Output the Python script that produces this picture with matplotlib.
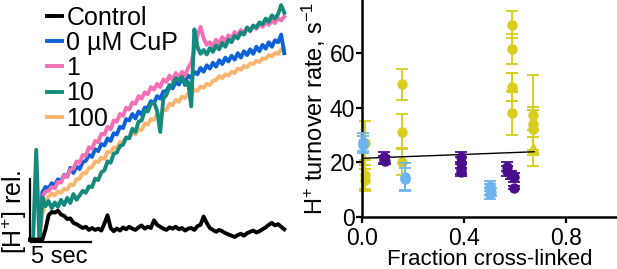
import numpy as np
import matplotlib
matplotlib.use("Agg")
import matplotlib.pyplot as plt

plt.rcParams['font.family'] = ['Liberation Sans', 'DejaVu Sans']
plt.rcParams['mathtext.fontset'] = 'custom'
plt.rcParams['mathtext.rm'] = 'Liberation Sans'
plt.rcParams['mathtext.it'] = 'Liberation Sans:italic'

# ---------------------------- traces (left panel) ----------------------------
# sampled every 0.25 s, signal in units of the vertical scale bar
dt = 0.25
control = [0.04, 0.04, 0.04, 0.04, 0.04, 0.20, 0.42, 0.47, 0.46, 0.49, 0.43,
           0.41, 0.36, 0.37, 0.30, 0.28, 0.25, 0.22, 0.24, 0.19, 0.22, 0.19,
           0.21, 0.18, 0.29, 0.42, 0.22, 0.17, 0.21, 0.18, 0.23, 0.20, 0.24,
           0.21, 0.19, 0.23, 0.26, 0.21, 0.24, 0.22, 0.34, 0.27, 0.24, 0.21,
           0.19, 0.23, 0.21, 0.24, 0.20, 0.22, 0.18, 0.21, 0.22, 0.19, 0.25,
           0.27, 0.40, 0.30, 0.22, 0.19, 0.16, 0.19, 0.17, 0.14, 0.12, 0.10,
           0.08, 0.11, 0.13, 0.10, 0.14, 0.16, 0.18, 0.15, 0.17, 0.20, 0.23,
           0.27, 0.30, 0.26, 0.28, 0.24, 0.20]
cup0 = [0.03, 0.03, 0.03, 0.03, 0.78, 0.86, 0.84, 0.92, 0.88, 0.98,
        0.95, 1.05, 1.02, 1.16, 1.08, 1.18, 1.14, 1.25, 1.27, 1.36,
        1.33, 1.45, 1.42, 1.53, 1.51, 1.62, 1.58, 1.70, 1.68, 1.80,
        1.78, 1.92, 1.90, 2.00, 1.93, 2.04, 1.99, 2.10, 2.10, 2.20,
        2.17, 2.28, 2.24, 2.35, 2.36, 2.45, 2.40, 2.50, 2.46, 2.56,
        2.50, 2.60, 2.56, 2.66, 2.62, 2.72, 2.66, 2.76, 2.71, 2.80,
        2.74, 2.84, 2.78, 2.88, 2.82, 2.91, 2.85, 2.95, 2.88, 2.98,
        2.92, 3.01, 2.94, 3.05, 2.98, 3.08, 3.02, 3.12, 3.05, 3.15,
        3.12, 3.24, 2.95]
cup1 = [0.03, 0.03, 0.03, 0.03, 0.70, 0.79, 0.80, 0.86, 0.84, 0.94,
        0.93, 1.04, 1.02, 1.13, 1.15, 1.26, 1.24, 1.36, 1.35, 1.48,
        1.46, 1.58, 1.56, 1.69, 1.68, 1.80, 1.76, 1.90, 1.88, 2.00,
        1.97, 2.10, 2.07, 2.18, 2.16, 2.28, 2.24, 2.34, 2.31, 2.42,
        2.38, 2.47, 2.42, 2.54, 2.50, 2.60, 2.53, 2.64, 2.57, 2.66,
        2.60, 2.72, 2.80, 3.00, 3.23, 3.36, 3.18, 3.08, 3.12, 3.06,
        3.16, 3.10, 3.20, 3.14, 3.23, 3.18, 3.28, 3.22, 3.31, 3.26,
        3.35, 3.29, 3.38, 3.33, 3.41, 3.36, 3.44, 3.39, 3.46, 3.42,
        3.50, 3.46, 3.52]
cup10 = [0.03, 0.03, 1.44, 0.03, 0.70, 0.56, 0.64, 0.53, 0.62, 0.55,
         0.66, 0.58, 0.69, 0.61, 0.75, 0.66, 0.73, 0.80, 0.77, 0.87,
         0.86, 0.99, 0.97, 1.09, 1.12, 1.26, 1.24, 1.38, 1.40, 1.50,
         1.52, 1.63, 1.62, 1.77, 1.72, 1.88, 1.90, 2.05, 2.04, 2.16,
         2.18, 2.05, 1.72, 2.24, 2.30, 2.42, 2.46, 2.56, 2.52, 2.58,
         2.45, 2.50, 2.12, 3.32, 3.05, 2.94, 3.00, 2.93, 3.03, 2.97,
         3.07, 3.01, 3.11, 3.05, 3.16, 3.12, 3.22, 3.18, 3.27, 3.24,
         3.35, 3.30, 3.38, 3.35, 3.43, 3.40, 3.49, 3.44, 3.54, 3.49,
         3.56, 3.70, 3.58]
cup100 = [0.03, 0.03, 0.03, 0.03, 0.45, 0.64, 0.71, 0.76, 0.73, 0.79,
          0.77, 0.83, 0.82, 0.90, 0.89, 0.98, 0.99, 1.08, 1.07, 1.16,
          1.17, 1.26, 1.25, 1.32, 1.30, 1.41, 1.40, 1.48, 1.47, 1.56,
          1.55, 1.64, 1.63, 1.71, 1.68, 1.76, 1.75, 1.85, 1.84, 1.92,
          1.91, 2.00, 1.98, 2.06, 2.06, 2.16, 2.14, 2.22, 2.19, 2.27,
          2.25, 2.32, 2.30, 2.38, 2.36, 2.43, 2.41, 2.47, 2.45, 2.52,
          2.53, 2.59, 2.56, 2.62, 2.60, 2.66, 2.64, 2.71, 2.69, 2.75,
          2.73, 2.79, 2.78, 2.83, 2.81, 2.87, 2.86, 2.92, 2.90, 2.95,
          2.94, 3.01, 3.02]

trace_labels = ['Control', '0 \u00b5M CuP', '1', '10', '100']
trace_colors = ['black', '#0c62d6', '#f46fb4', '#138a7c', '#f9b470']

# ------------------------ turnover rates (right panel) -----------------------
yel_x = [0.01, 0.01, 0.01, 0.155, 0.155, 0.155, 0.587, 0.587, 0.587, 0.587,
         0.672, 0.672, 0.672]
yel_y = [27.0, 15.4, 13.6, 48.6, 31.3, 20.3, 70.5, 61.5, 47.6, 38.1,
         37.3, 34.2, 32.4]
yel_e = [8.0, 5.3, 4.0, 5.6, 6.4, 5.0, 4.8, 5.5, 5.0, 8.2, 14.6, 5.0, 8.0]
yel_tri_x = [0.587, 0.672]
yel_tri_y = [47.6, 25.3]
yel_tri_e = [5.0, 6.7]

blue_x = [0.005, 0.005, 0.17, 0.17, 0.50, 0.50, 0.50, 0.505]
blue_y = [27.5, 26.5, 14.8, 13.8, 11.5, 10.0, 8.5, 9.2]
blue_e = [3.3, 3.0, 5.0, 4.2, 1.8, 2.0, 2.0, 1.5]

purp_x = [0.085, 0.085, 0.09, 0.39, 0.39, 0.39, 0.39, 0.57, 0.57, 0.585,
          0.595, 0.595]
purp_y = [21.8, 21.0, 20.6, 22.0, 19.8, 17.6, 16.4, 18.5, 16.8, 15.5,
          14.5, 10.8]
purp_e = [2.0, 1.5, 1.2, 1.8, 2.0, 1.8, 1.5, 1.5, 1.8, 1.5, 1.6, 0.6]

fit_x = [0.0, 0.675]
fit_y = [21.5, 23.9]

yel_col = '#d8cc1c'
blue_col = '#6cb4f0'
purp_col = '#4a0d8c'

# ----------------------------------- figure ----------------------------------
fig = plt.figure(figsize=(6.17, 2.69), dpi=100)

# left: traces with scale bars
axL = fig.add_axes([0, 0, 300 / 617, 1])
axL.set_xlim(-2.42, 21.77)
axL.set_ylim(-0.42, 3.78)
axL.axis('off')

series = [control, cup0, cup1, cup10, cup100]
draw_order = [4, 1, 2, 3, 0]
lines = {}
for i in draw_order:
    y = series[i]
    t = dt * np.arange(len(y))
    ln, = axL.plot(t, y, color=trace_colors[i], lw=2.8, solid_joinstyle='round')
    lines[i] = ln

leg = axL.legend([lines[i] for i in range(5)], trace_labels, loc='upper left',
                 bbox_to_anchor=(0.105, 1.035), frameon=False, fontsize=18,
                 handlelength=0.6, handletextpad=0.2, labelspacing=0.05,
                 borderpad=0.1)
for h in leg.legend_handles:
    h.set_linewidth(2.8)

axL.plot([0, 0], [0, 1], color='black', lw=1.6, solid_capstyle='butt')
axL.plot([0, 5], [0, 0], color='black', lw=1.6, solid_capstyle='butt')
axL.text(-1.3, 0.48, '[H$^{+}$] rel.', rotation=90, ha='center', va='center',
         fontsize=18)
axL.text(2.35, -0.24, '5 sec', ha='center', va='center', fontsize=17)

# right: turnover rate vs fraction cross-linked
ax = fig.add_axes([362 / 617, 1 - 217 / 269, 255 / 617, 217 / 269])
ek = dict(ls='none', capsize=4.5, elinewidth=1.3, capthick=1.3, clip_on=False)
ax.errorbar(yel_x, yel_y, yerr=yel_e, fmt='o', ms=6.5, color=yel_col, **ek)
ax.errorbar(yel_tri_x, yel_tri_y, yerr=yel_tri_e, fmt='^', ms=6.5,
            color=yel_col, **ek)
ax.plot(fit_x, fit_y, color='black', lw=1.0, zorder=3)
ax.errorbar(blue_x, blue_y, yerr=blue_e, fmt='o', ms=6.5, color=blue_col,
            zorder=4, **ek)
ax.errorbar(purp_x, purp_y, yerr=purp_e, fmt='o', ms=6.5, color=purp_col,
            zorder=5, **ek)

ax.set_xlim(0, 1.0)
ax.set_ylim(0, 79.5)
ax.set_xticks([0.0, 0.4, 0.8])
ax.set_xticklabels(['0.0', '0.4', '0.8'])
ax.set_yticks([0, 20, 40, 60])
for s in ['top', 'right']:
    ax.spines[s].set_visible(False)
for s in ['left', 'bottom']:
    ax.spines[s].set_linewidth(1.8)
ax.tick_params(width=1.6, length=4, labelsize=16.5)
ax.tick_params(axis='x', pad=3)
ax.tick_params(axis='y', pad=1)
ax.set_xlabel('Fraction cross-linked', fontsize=16, labelpad=-0.5)
ax.set_ylabel('H$^{+}$ turnover rate, s$^{-1}$', fontsize=17, labelpad=1)

fig.savefig('out.png', dpi=100)
